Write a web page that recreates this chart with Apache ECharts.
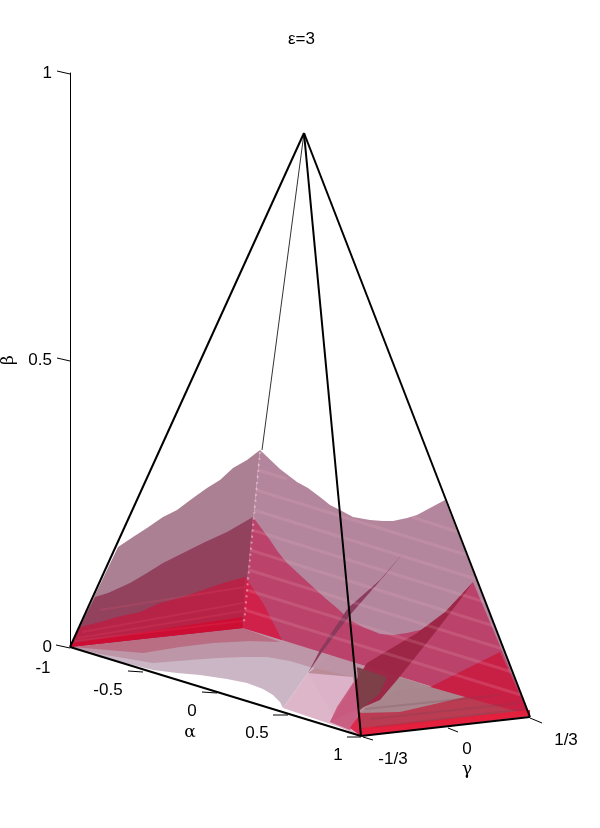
<!DOCTYPE html>
<html><head><meta charset="utf-8">
<style>html,body{margin:0;padding:0;background:#fff}#c{width:600px;height:828px}</style>
<script src="https://cdn.jsdelivr.net/npm/echarts@6/dist/echarts.min.js"></script>
</head><body><div id="c"></div>
<script>
// All outlines as [projected u, projected height]; 574 height units = beta 1
const betaTicks = ['0', '0.5', '1'];
const alphaTicks = ['-1', '-0.5', '0', '0.5', '1'];
const gammaTicks = ['-1/3', '0', '1/3'];
const heightPerBeta = 574;

const floorBack = [[330,-8],[530,-70],[361,-89],[340,-80],[308,-26]];
const floorLight = [[77,-1],[100,-10],[133,-18],[153,-23],[177,-26],[200,-28],[227,-32],[247,-36],[263,-42],[273,-48],[280,-55],[283,-61],[308,-26],[330,-8],[243,19]];
const floorMid = [[72,0],[100,-7],[153,-16],[190,-13],[217,-11],[243,-10],[267,-10],[290,-14],[310,-20],[353,-30],[400,-30],[330,-8],[243,19]];
const floorDeep = [[72,0],[143,-6],[180,0],[213,4],[250,6],[280,5],[243,19]];
const floorPink = [[283,-61],[308,-26],[353,-30],[362,-89],[345,-82]];
const leftMauve = [[70,0],[118,100],[133,110],[147,119],[163,130],[177,137],[193,149],[207,159],[220,167],[233,179],[247,187],[260,197],[243,19]];
const leftDark = [[70,0],[95,50],[108,54],[130,64],[147,74],[163,84],[183,94],[203,104],[227,115],[253,130],[243,19]];
const leftRed = [[70,0],[80,20],[100,25],[117,30],[140,35],[160,44],[183,50],[203,57],[223,64],[245,70],[243,19]];
const leftCrimson = [[70,0],[73,4],[242,30],[243,19]];
const rightMauve = [[260,197],[280,178],[297,165],[308,159],[320,150],[330,142],[340,137],[353,130],[370,127],[383,126],[393,126],[407,129],[417,132],[430,139],[445,147],[530,-70],[243,19]];
const rightRed = [[253,130],[270,107],[278,95],[287,84],[300,72],[313,60],[325,49],[337,39],[350,27],[363,20],[380,13],[393,12],[407,14],[420,17],[437,25],[447,34],[460,49],[473,65],[530,-70],[243,19]];
const rightRedNear = [[245,70],[263,44],[282,7],[243,19]];
const cornerRed = [[500,-5],[470,-20],[430,-40],[530,-70]];
const sliverThin = [[405,96],[380,67],[348,39],[320,-3],[308,-26],[322,-5],[350,32],[385,72]];
const lowerRed = [[361,-83],[360,-66],[397,-43],[430,-40],[530,-68],[530,-65]];
const wedgeGrey = [[380,-46],[397,-29],[430,-40],[465,-50],[400,-65],[360,-66]];
const sliverWide = [[473,65],[445,35],[417,14],[367,-16],[350,-43],[330,-75],[345,-68],[380,-53],[397,-33],[437,17],[460,47]];
const bowlDark = [[357,-20],[387,-30],[380,-46],[360,-63]];
const nearPink = [[330,-75],[337,-60],[355,-33],[360,-65],[350,-83]];
const nearRed = [[350,-81],[361,-89],[361,-65]];
const lowerStrip = [[361,-89],[361,-81],[530,-63],[530,-69]];

const stripesRight = [[258,177,287,168],[256,157,467,92],[254,137,476,68],[252,117,485,45],[250,97,494,21],[249,77,503,-2],[247,57,512,-25],[245,37,521,-48],[412,130,458,115]];
const stripesLeft = [[82,15,243,44],[78,9,243,36],[75,6,243,26],[100,37,245,60]];
const stripesFloor = [[370,-72,520,-56],[365,-62,500,-48],[375,-80,525,-62]];

const edgesBold = [[70,0,304,514],[304,514,530,-70],[304,514,361,-89],[70,0,361,-89],[361,-89,530,-70]];
const edgesThin = [[304,514,262,197]];
const ticks = [[57,576,70,573],[57,289,70,286],[56,2,70,-1],[128,-24,143,-25],[202,-45,217,-46],[273,-68,288,-68],[347,-90,361,-90],[363,-90,373,-93],[448,-81,458,-85],[530,-71,542,-76]];
const alphaLabelAt = [[43,-21],[108,-43],[192,-64],[257,-86],[338,-108]];
const gammaLabelAt = [[393,-112],[467,-102],[566,-93]];

const polygons = [
  [floorBack,'#b98894'],[floorLight,'#c8b4c2'],[floorMid,'#bc95a6'],[floorDeep,'#b96c82'],[floorPink,'#dcb4c8'],
  [leftMauve,'#a87c90'],[leftDark,'#92405c'],[leftRed,'#b82245'],[leftCrimson,'#cc0c34'],
  [rightMauve,'#b2829a'],[rightRed,'#bb4068'],[rightRedNear,'#cf2048'],[cornerRed,'#c81e44'],
  [lowerRed,'#b93a50'],[wedgeGrey,'#a88890'],[sliverThin,'#8a3a5c'],[sliverWide,'#9c2444'],
  [bowlDark,'#7c4048'],[nearPink,'#c85c80'],[nearRed,'#dc2448'],[lowerStrip,'#e41e3c']
];
const segments = [
  [stripesRight,'rgba(240,175,195,0.18)',3,null],
  [stripesLeft,'rgba(255,90,120,0.14)',2,null],
  [stripesFloor,'rgba(110,70,80,0.22)',2,null],
  [[[260,195,244,24]],'rgba(245,205,220,0.55)',2,[2,4]],
  [edgesThin,'#333',1,null],
  [edgesBold,'#000',2,null],
  [ticks,'#000',1,null]
];
const texts = [
  ...alphaTicks.map((t,i)=>[t,alphaLabelAt[i],'"Liberation Sans"']),
  ...gammaTicks.map((t,i)=>[t,gammaLabelAt[i],'"Liberation Sans"']),
  ['α',[190,-86],'"DejaVu Serif"'],['γ',[467,-123],'"DejaVu Serif"']
];

const at = (api,p)=>api.coord([p[0],p[1]/heightPerBeta]);
const polygonSeries = {
  type:'custom', clip:false, silent:true, z:2,
  data: polygons.map((p,i)=>[p[0][0][0],p[0][0][1]/heightPerBeta,i]),
  encode:{x:0,y:1},
  renderItem:(params,api)=>{
    const p=polygons[api.value(2)];
    return {type:'polygon',shape:{points:p[0].map(q=>at(api,q))},style:{fill:p[1],opacity:0.97,stroke:null}};
  }
};
const segmentSeries = {
  type:'custom', clip:false, silent:true, z:3,
  data: segments.map((s,i)=>[s[0][0][0],s[0][0][1]/heightPerBeta,i]),
  encode:{x:0,y:1},
  renderItem:(params,api)=>{
    const s=segments[api.value(2)];
    return {type:'group',children:s[0].map(r=>{
      const a=at(api,[r[0],r[1]]),b=at(api,[r[2],r[3]]);
      return {type:'line',shape:{x1:a[0],y1:a[1],x2:b[0],y2:b[1]},style:{stroke:s[1],lineWidth:s[2],lineDash:s[3]||undefined}};
    })};
  }
};
const textSeries = {
  type:'custom', clip:false, silent:true, z:4,
  data: texts.map((t,i)=>[t[1][0],t[1][1]/heightPerBeta,i]),
  encode:{x:0,y:1},
  renderItem:(params,api)=>{
    const t=texts[api.value(2)],c=at(api,t[1]);
    return {type:'text',x:c[0],y:c[1],style:{text:t[0],fill:'#000',font:'17px '+t[2],align:'center',verticalAlign:'middle'}};
  }
};
const chart = echarts.init(document.getElementById('c'),null,{renderer:'canvas'});
chart.setOption({
  animation:false,
  backgroundColor:'#fff',
  title:{text:'ε=3',left:283,top:26,textStyle:{fontFamily:'"Liberation Sans"',fontSize:17,fontWeight:'normal',color:'#000'}},
  grid:{left:70,top:73,width:530,height:574,outerBoundsMode:'none'},
  xAxis:{type:'value',min:70,max:600,show:false},
  yAxis:{type:'value',min:0,max:1,interval:0.5,
    name:'β',nameLocation:'middle',nameGap:43,nameRotate:90,
    nameTextStyle:{fontFamily:'"DejaVu Serif"',fontSize:17,color:'#000'},
    axisLine:{show:true,lineStyle:{color:'#000',width:1}},axisTick:{show:false},splitLine:{show:false},
    axisLabel:{margin:18,fontFamily:'"Liberation Sans"',fontSize:17,color:'#000',
      formatter:v=>betaTicks[Math.round(v*2)]}},
  series:[polygonSeries,segmentSeries,textSeries]
});
</script></body></html>
